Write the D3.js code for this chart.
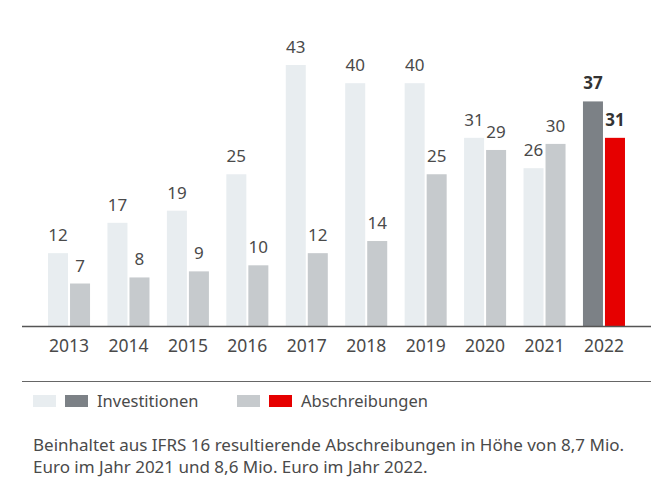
<!DOCTYPE html>
<html>
<head>
<meta charset="utf-8">
<script src="https://cdn.jsdelivr.net/npm/d3@7"></script>
<style>
  body { margin: 0; background: #fff; }
  svg { font-family: "Noto Sans", sans-serif; }
</style>
</head>
<body>
<svg width="651" height="478"></svg>
<script>
const years = ["2013", "2014", "2015", "2016", "2017", "2018", "2019", "2020", "2021", "2022"];
const investitionen = [12, 17, 19, 25, 43, 40, 40, 31, 26, 37];
const abschreibungen = [7, 8, 9, 10, 12, 14, 25, 29, 30, 31];
const seriesKeys = ["inv", "abs"];
const legendLabels = ["Investitionen", "Abschreibungen"];
const footnote = [
  "Beinhaltet aus IFRS 16 resultierende Abschreibungen in Höhe von 8,7 Mio.",
  "Euro im Jahr 2021 und 8,6 Mio. Euro im Jahr 2022."
];

const textColor = "#4a4a4a";
const colors = { inv: "#e8edf0", abs: "#c6cacd" };
const highlight = { inv: "#7c8186", abs: "#e60000" };
const lastYear = "2022";

const svg = d3.select("svg");

const rows = years.map((y, i) => ({ year: y, inv: investitionen[i], abs: abschreibungen[i] }));

const x = d3.scaleBand()
  .domain(years)
  .range([39.3, 633.7])
  .paddingInner(0.293)
  .paddingOuter(0.1467);

const x1 = d3.scaleBand()
  .domain(seriesKeys)
  .range([0, x.bandwidth()])
  .paddingInner(0.0909);

const y = d3.scaleLinear()
  .domain([0, 43])
  .range([326, 65]);

// bars + value labels
const groups = svg.selectAll(".group")
  .data(rows)
  .enter().append("g")
  .attr("class", "group")
  .attr("transform", d => "translate(" + x(d.year) + ",0)");

const cells = groups.selectAll(".cell")
  .data(d => seriesKeys.map(k => ({ key: k, value: d[k], year: d.year })))
  .enter().append("g")
  .attr("class", "cell");

cells.append("rect")
  .attr("x", d => x1(d.key))
  .attr("width", x1.bandwidth())
  .attr("y", d => y(d.value))
  .attr("height", d => y(0) - y(d.value))
  .attr("fill", d => d.year === lastYear ? highlight[d.key] : colors[d.key]);

cells.append("text")
  .attr("x", d => x1(d.key) + x1.bandwidth() / 2)
  .attr("y", d => y(d.value) - 12)
  .attr("text-anchor", "middle")
  .attr("font-size", 17)
  .attr("font-weight", d => d.year === lastYear ? "bold" : "normal")
  .attr("fill", d => d.year === lastYear ? "#333" : textColor)
  .text(d => d.value);

// x axis
const xAxis = svg.append("g")
  .attr("transform", "translate(0," + y(0) + ")")
  .call(d3.axisBottom(x).tickSize(0));
xAxis.select(".domain").remove();
xAxis.selectAll("text")
  .attr("dy", null)
  .attr("y", 26)
  .attr("font-size", 17.5)
  .attr("font-family", "Noto Sans")
  .attr("fill", textColor);

svg.append("line")
  .attr("x1", 22).attr("x2", 651)
  .attr("y1", y(0) + 0.5).attr("y2", y(0) + 0.5)
  .attr("stroke", "#555")
  .attr("stroke-width", 1.3);

svg.append("line")
  .attr("x1", 22).attr("x2", 651)
  .attr("y1", 381.5).attr("y2", 381.5)
  .attr("stroke", "#666")
  .attr("stroke-width", 1);

// legend
const legend = svg.append("g").attr("transform", "translate(33,395)");
const legendX = [0, 204];
seriesKeys.forEach((k, i) => {
  const g = legend.append("g").attr("transform", "translate(" + legendX[i] + ",0)");
  g.append("rect").attr("x", 0).attr("width", 23).attr("height", 12).attr("fill", colors[k]);
  g.append("rect").attr("x", 32).attr("width", 23).attr("height", 12).attr("fill", highlight[k]);
  g.append("text")
    .attr("x", 64)
    .attr("y", 12)
    .attr("font-size", 16.5)
    .attr("fill", textColor)
    .text(legendLabels[i]);
});

// footnote
svg.append("g").selectAll("text")
  .data(footnote)
  .enter().append("text")
  .attr("x", 33)
  .attr("y", (d, i) => 451 + i * 22)
  .attr("font-size", 17)
  .attr("fill", textColor)
  .text(d => d);
</script>
</body>
</html>
